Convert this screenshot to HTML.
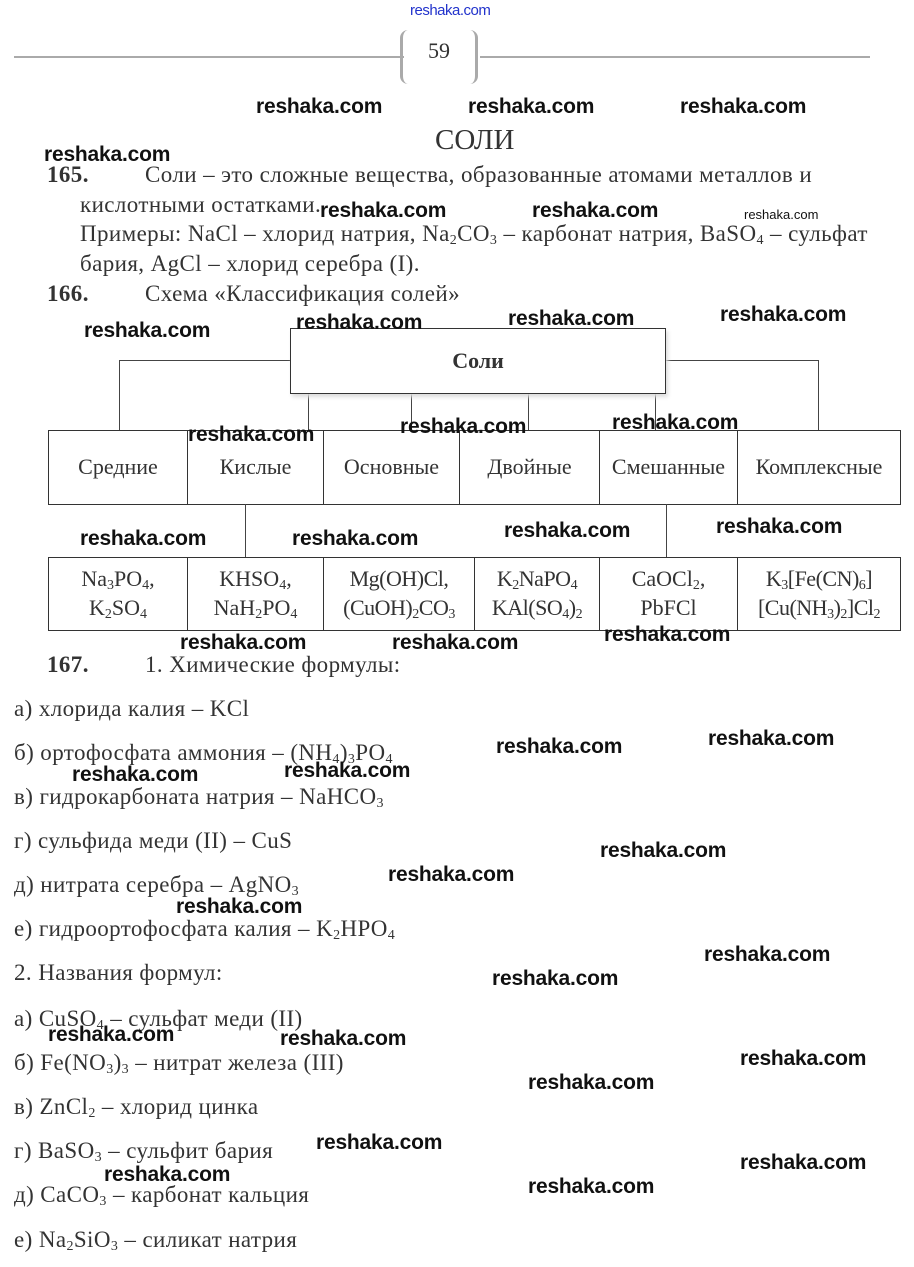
<!DOCTYPE html>
<html><head><meta charset="utf-8"><style>
body{margin:0;width:914px;height:1267px;background:#fff;position:relative;overflow:hidden;font-family:"Liberation Serif",serif;color:#333}
.a{position:absolute;white-space:nowrap}
.t{font-size:23px;letter-spacing:0.4px;line-height:24px}
.w{position:absolute;font-family:"Liberation Sans",sans-serif;font-weight:bold;font-size:21px;color:#111;white-space:nowrap;letter-spacing:-0.2px}
.b{position:absolute;border:1px solid #333;box-sizing:border-box;display:flex;align-items:center;justify-content:center;text-align:center;font-size:22px;line-height:1.3;background:transparent}
.l{position:absolute;background:#444}
sub{font-size:14px;vertical-align:-3px;line-height:0}
</style></head><body>
<div class="a" style="left:410px;top:2px;font-family:'Liberation Sans',sans-serif;font-size:15px;color:#2233cc;letter-spacing:-0.5px">reshaka.com</div>
<div class="l" style="left:14px;top:56px;width:390px;height:2px;background:#aaa"></div>
<div class="l" style="left:480px;top:56px;width:390px;height:2px;background:#aaa"></div>
<div class="a" style="left:400px;top:30px;width:78px;height:54px;border-left:3px solid #aaa;border-right:3px solid #aaa;border-radius:8px;box-sizing:border-box"></div>
<div class="a" style="left:428px;top:38px;font-size:22px">59</div>

<div class="w" style="left:256px;top:95px">reshaka.com</div>
<div class="w" style="left:468px;top:95px">reshaka.com</div>
<div class="w" style="left:680px;top:95px">reshaka.com</div>
<div class="a" style="left:435px;top:124px;font-size:29px">СОЛИ</div>
<div class="w" style="left:44px;top:143px">reshaka.com</div>
<div class="a t" style="left:47px;top:163px;font-weight:bold">165.</div>
<div class="a t" style="left:145px;top:163px">Соли – это сложные вещества, образованные атомами металлов и</div>
<div class="a t" style="left:80px;top:193px">кислотными остатками.</div>
<div class="w" style="left:320px;top:199px">reshaka.com</div>
<div class="w" style="left:532px;top:199px">reshaka.com</div>
<div class="a" style="left:744px;top:207px;font-family:'Liberation Sans',sans-serif;font-size:13px;color:#111">reshaka.com</div>
<div class="a t" style="left:80px;top:222px">Примеры: NaCl – хлорид натрия, Na<sub>2</sub>CO<sub>3</sub> – карбонат натрия, BaSO<sub>4</sub> – сульфат</div>
<div class="a t" style="left:80px;top:252px">бария, AgCl – хлорид серебра (I).</div>
<div class="a t" style="left:47px;top:282px;font-weight:bold">166.</div>
<div class="a t" style="left:145px;top:282px">Схема «Классификация солей»</div>

<div class="l" style="left:119px;top:360px;width:171px;height:1px"></div>
<div class="l" style="left:119px;top:360px;width:1px;height:70px"></div>
<div class="l" style="left:665px;top:360px;width:153px;height:1px"></div>
<div class="l" style="left:818px;top:360px;width:1px;height:70px"></div>
<div class="l" style="left:308px;top:393px;width:1px;height:37px"></div>
<div class="l" style="left:411px;top:393px;width:1px;height:37px"></div>
<div class="l" style="left:528px;top:393px;width:1px;height:37px"></div>
<div class="l" style="left:655px;top:393px;width:1px;height:37px"></div>
<div class="b" style="left:290px;top:328px;width:376px;height:66px;font-weight:bold;background:#fff;box-shadow:2px 3px 4px #ddd"><div>Соли</div></div>

<div class="b" style="left:48px;top:430px;width:140px;height:75px"><div>Средние</div></div>
<div class="b" style="left:187px;top:430px;width:137px;height:75px"><div>Кислые</div></div>
<div class="b" style="left:323px;top:430px;width:137px;height:75px"><div>Основные</div></div>
<div class="b" style="left:459px;top:430px;width:141px;height:75px"><div>Двойные</div></div>
<div class="b" style="left:599px;top:430px;width:139px;height:75px"><div>Смешанные</div></div>
<div class="b" style="left:737px;top:430px;width:164px;height:75px"><div>Комплексные</div></div>

<div class="l" style="left:245px;top:504px;width:1px;height:53px"></div>
<div class="l" style="left:666px;top:504px;width:1px;height:53px"></div>

<div class="b" style="left:48px;top:557px;width:140px;height:74px"><div>Na<sub>3</sub>PO<sub>4</sub>,<br>K<sub>2</sub>SO<sub>4</sub></div></div>
<div class="b" style="left:187px;top:557px;width:137px;height:74px"><div>KHSO<sub>4</sub>,<br>NaH<sub>2</sub>PO<sub>4</sub></div></div>
<div class="b" style="left:323px;top:557px;width:152px;height:74px;letter-spacing:-0.5px"><div>Mg(OH)Cl,<br>(CuOH)<sub>2</sub>CO<sub>3</sub></div></div>
<div class="b" style="left:474px;top:557px;width:126px;height:74px;letter-spacing:-0.5px"><div>K<sub>2</sub>NaPO<sub>4</sub><br>KAl(SO<sub>4</sub>)<sub>2</sub></div></div>
<div class="b" style="left:599px;top:557px;width:139px;height:74px"><div>CaOCl<sub>2</sub>,<br>PbFCl</div></div>
<div class="b" style="left:737px;top:557px;width:164px;height:74px;letter-spacing:-0.5px"><div>K<sub>3</sub>[Fe(CN)<sub>6</sub>]<br>[Cu(NH<sub>3</sub>)<sub>2</sub>]Cl<sub>2</sub></div></div>

<div class="w" style="left:84px;top:319px">reshaka.com</div>
<div class="w" style="left:296px;top:311px">reshaka.com</div>
<div class="w" style="left:508px;top:307px">reshaka.com</div>
<div class="w" style="left:720px;top:303px">reshaka.com</div>
<div class="w" style="left:188px;top:423px">reshaka.com</div>
<div class="w" style="left:400px;top:415px">reshaka.com</div>
<div class="w" style="left:612px;top:411px">reshaka.com</div>
<div class="w" style="left:80px;top:527px">reshaka.com</div>
<div class="w" style="left:292px;top:527px">reshaka.com</div>
<div class="w" style="left:504px;top:519px">reshaka.com</div>
<div class="w" style="left:716px;top:515px">reshaka.com</div>
<div class="w" style="left:180px;top:631px">reshaka.com</div>
<div class="w" style="left:392px;top:631px">reshaka.com</div>
<div class="w" style="left:604px;top:623px">reshaka.com</div>

<div class="a t" style="left:47px;top:653px;font-weight:bold">167.</div>
<div class="a t" style="left:145px;top:653px">1. Химические формулы:</div>
<div class="a t" style="left:14px;top:697px">а) хлорида калия – KCl</div>
<div class="a t" style="left:14px;top:741px">б) ортофосфата аммония – (NH<sub>4</sub>)<sub>3</sub>PO<sub>4</sub></div>
<div class="a t" style="left:14px;top:785px">в) гидрокарбоната натрия – NaHCO<sub>3</sub></div>
<div class="a t" style="left:14px;top:829px">г) сульфида меди (II) – CuS</div>
<div class="a t" style="left:14px;top:873px">д) нитрата серебра – AgNO<sub>3</sub></div>
<div class="a t" style="left:14px;top:917px">е) гидроортофосфата калия – K<sub>2</sub>HPO<sub>4</sub></div>
<div class="a t" style="left:14px;top:961px">2. Названия формул:</div>
<div class="a t" style="left:14px;top:1007px">а) CuSO<sub>4</sub> – сульфат меди (II)</div>
<div class="a t" style="left:14px;top:1051px">б) Fe(NO<sub>3</sub>)<sub>3</sub> – нитрат железа (III)</div>
<div class="a t" style="left:14px;top:1095px">в) ZnCl<sub>2</sub> – хлорид цинка</div>
<div class="a t" style="left:14px;top:1139px">г) BaSO<sub>3</sub> – сульфит бария</div>
<div class="a t" style="left:14px;top:1183px">д) CaCO<sub>3</sub> – карбонат кальция</div>
<div class="a t" style="left:14px;top:1228px">е) Na<sub>2</sub>SiO<sub>3</sub> – силикат натрия</div>

<div class="w" style="left:496px;top:735px">reshaka.com</div>
<div class="w" style="left:708px;top:727px">reshaka.com</div>
<div class="w" style="left:72px;top:763px">reshaka.com</div>
<div class="w" style="left:284px;top:759px">reshaka.com</div>
<div class="w" style="left:600px;top:839px">reshaka.com</div>
<div class="w" style="left:388px;top:863px">reshaka.com</div>
<div class="w" style="left:176px;top:895px">reshaka.com</div>
<div class="w" style="left:704px;top:943px">reshaka.com</div>
<div class="w" style="left:492px;top:967px">reshaka.com</div>
<div class="w" style="left:48px;top:1023px">reshaka.com</div>
<div class="w" style="left:280px;top:1027px">reshaka.com</div>
<div class="w" style="left:740px;top:1047px">reshaka.com</div>
<div class="w" style="left:528px;top:1071px">reshaka.com</div>
<div class="w" style="left:316px;top:1131px">reshaka.com</div>
<div class="w" style="left:104px;top:1163px">reshaka.com</div>
<div class="w" style="left:740px;top:1151px">reshaka.com</div>
<div class="w" style="left:528px;top:1175px">reshaka.com</div>
</body></html>
